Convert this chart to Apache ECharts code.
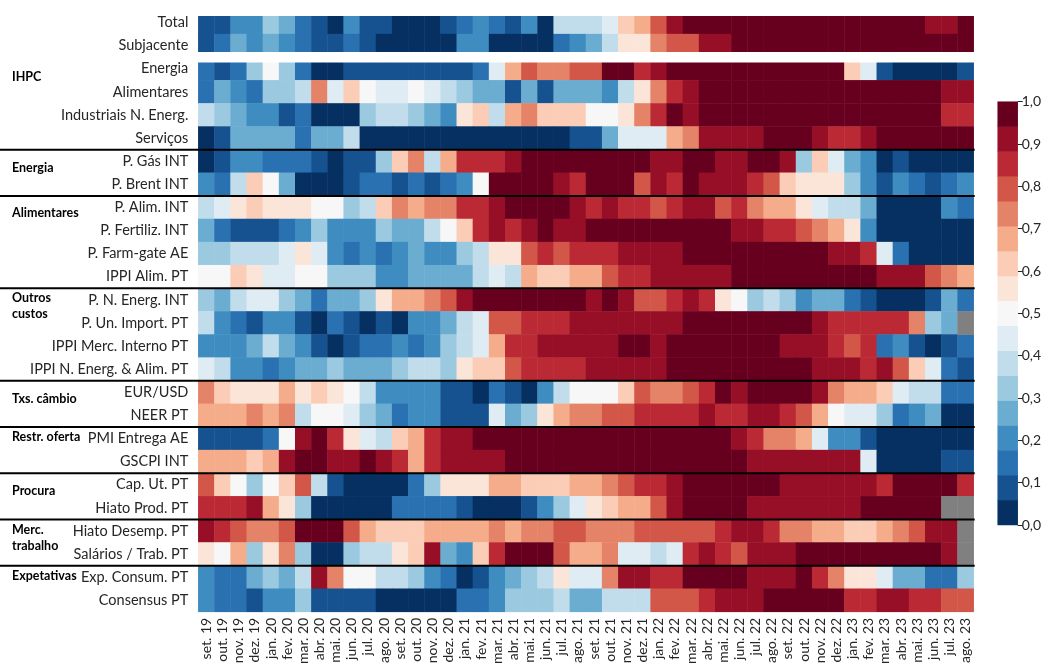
<!DOCTYPE html>
<html><head><meta charset="utf-8">
<script src="https://cdn.jsdelivr.net/npm/echarts@6/dist/echarts.min.js"></script>
<style>html,body{margin:0;padding:0;background:#fff}#c{width:1048px;height:667px}</style>
</head><body><div id="c"></div>
<script>
const months = ['set. 19','out. 19','nov. 19','dez. 19','jan. 20','fev. 20','mar. 20','abr. 20','mai. 20','jun. 20','jul. 20','ago. 20',
'set. 20','out. 20','nov. 20','dez. 20','jan. 21','fev. 21','mar. 21','abr. 21','mai. 21','jun. 21','jul. 21','ago. 21',
'set. 21','out. 21','nov. 21','dez. 21','jan. 22','fev. 22','mar. 22','abr. 22','mai. 22','jun. 22','jul. 22','ago. 22',
'set. 22','out. 22','nov. 22','dez. 22','jan. 23','fev. 23','mar. 23','abr. 23','mai. 23','jun. 23','jul. 23','ago. 23'];

const rowLabels = ['Total','Subjacente','Energia','Alimentares','Industriais N. Energ.','Serviços','P. Gás INT','P. Brent INT',
'P. Alim. INT','P. Fertiliz. INT','P. Farm-gate AE','IPPI Alim. PT','P. N. Energ. INT','P. Un. Import. PT','IPPI Merc. Interno PT',
'IPPI N. Energ. & Alim. PT','EUR/USD','NEER PT','PMI Entrega AE','GSCPI INT','Cap. Ut. PT','Hiato Prod. PT','Hiato Desemp. PT',
'Salários / Trab. PT','Exp. Consum. PT','Consensus PT'];

const total = [.09,.09,.21,.21,.32,.26,.15,.09,.03,.21,.09,.09,.03,.03,.03,.09, .15,.21,.15,.09,.21,.03,.38,.38,.38,.44,.62,.68,.79,.91,.97,.97, .97,.97,.97,.97,.97,.97,.97,.97,.97,.97,.97,.97,.97,.91,.91,.97];
const subjacente = [.09,.15,.26,.21,.26,.21,.15,.09,.09,.15,.09,.03,.03,.03,.03,.03, .21,.21,.03,.03,.03,.03,.15,.21,.26,.38,.56,.56,.74,.79,.79,.91, .91,.97,.97,.97,.97,.97,.97,.97,.97,.97,.97,.97,.97,.97,.97,.97];
const energia = [.15,.09,.15,.32,.5,.32,.15,.03,.03,.09,.09,.09,.09,.09,.09,.09, .09,.15,.44,.68,.79,.74,.74,.79,.79,.97,.97,.85,.91,.97,.97,.97, .97,.97,.97,.97,.97,.97,.97,.97,.62,.44,.09,.03,.03,.03,.03,.09];
const alimentares = [.15,.26,.21,.15,.32,.32,.38,.74,.44,.62,.5,.44,.44,.5,.44,.38, .32,.26,.26,.09,.26,.09,.26,.26,.26,.21,.38,.56,.74,.85,.91,.97, .97,.97,.97,.97,.97,.97,.97,.97,.97,.97,.97,.97,.97,.97,.91,.91];
const industriais = [.38,.32,.26,.21,.21,.09,.15,.03,.03,.03,.32,.38,.38,.32,.26,.21, .56,.62,.38,.68,.74,.62,.62,.62,.5,.5,.56,.74,.85,.97,.91,.97, .97,.97,.97,.97,.97,.97,.97,.97,.97,.97,.97,.97,.97,.97,.85,.85];
const servicos = [.03,.09,.26,.26,.26,.26,.15,.26,.26,.38,.03,.03,.03,.03,.03,.03, .03,.03,.03,.03,.03,.03,.03,.09,.09,.26,.44,.44,.44,.68,.74,.91, .91,.91,.91,.97,.97,.97,.91,.85,.85,.91,.97,.97,.97,.97,.97,.97];
const pGas = [.03,.09,.21,.21,.15,.15,.15,.09,.03,.09,.09,.32,.62,.74,.38,.68, .85,.85,.85,.91,.97,.97,.97,.97,.97,.97,.97,.97,.91,.91,.97,.97, .91,.91,.97,.97,.91,.32,.62,.44,.26,.21,.03,.09,.03,.03,.03,.03];
const pBrent = [.21,.15,.38,.62,.5,.26,.03,.03,.03,.09,.15,.15,.09,.15,.09,.15, .21,.5,.97,.97,.97,.97,.91,.85,.97,.97,.97,.79,.91,.85,.97,.91, .91,.91,.85,.79,.62,.56,.56,.56,.32,.21,.09,.21,.15,.09,.15,.21];
const pAlim = [.38,.44,.56,.62,.56,.56,.56,.5,.5,.32,.38,.62,.74,.68,.74,.74, .85,.85,.91,.97,.97,.97,.97,.91,.85,.91,.85,.85,.79,.85,.91,.91, .79,.85,.74,.68,.68,.56,.44,.38,.38,.26,.03,.03,.03,.03,.21,.15];
const pFertiliz = [.26,.15,.09,.09,.09,.15,.21,.32,.21,.21,.21,.32,.26,.26,.38,.5, .62,.85,.91,.85,.91,.97,.91,.91,.97,.97,.97,.97,.97,.97,.97,.97, .97,.91,.91,.85,.85,.79,.74,.68,.56,.21,.03,.03,.03,.03,.03,.03];
const pFarmGate = [.32,.32,.38,.38,.38,.44,.56,.44,.21,.15,.21,.15,.21,.26,.21,.21, .32,.38,.56,.56,.79,.85,.79,.85,.85,.85,.91,.91,.91,.91,.97,.97, .97,.97,.97,.97,.97,.97,.97,.91,.91,.85,.44,.15,.03,.03,.03,.03];
const ippiAlim = [.5,.5,.62,.56,.44,.44,.5,.5,.32,.32,.32,.21,.21,.26,.26,.26, .26,.38,.44,.38,.68,.62,.62,.68,.68,.79,.85,.85,.91,.91,.91,.91, .91,.97,.97,.97,.97,.97,.97,.97,.97,.97,.91,.91,.91,.79,.74,.68];
const pNEnerg = [.32,.26,.38,.44,.44,.32,.26,.15,.26,.26,.32,.56,.68,.68,.74,.79, .91,.97,.97,.97,.97,.97,.97,.97,.91,.97,.91,.79,.79,.85,.91,.85, .56,.5,.32,.38,.32,.21,.26,.26,.15,.09,.03,.03,.03,.09,.26,.15];
const pUnImport = [.38,.21,.15,.09,.21,.21,.09,.03,.15,.09,.03,.09,.03,.21,.21,.26, .38,.44,.79,.79,.85,.85,.85,.91,.91,.91,.91,.91,.91,.91,.97,.97, .97,.97,.97,.97,.97,.97,.91,.85,.85,.85,.85,.85,.74,.32,.26,null];
const ippiMerc = [.21,.21,.21,.26,.38,.26,.21,.09,.03,.09,.15,.15,.21,.15,.21,.32, .38,.44,.68,.85,.85,.91,.91,.91,.91,.91,.97,.97,.91,.97,.97,.97, .97,.97,.97,.97,.91,.91,.91,.85,.79,.85,.15,.21,.09,.03,.09,.15];
const ippiNEnerg = [.44,.38,.21,.21,.15,.21,.26,.26,.32,.26,.26,.26,.32,.38,.38,.32, .56,.62,.62,.79,.85,.85,.85,.85,.91,.91,.91,.91,.91,.97,.97,.97, .97,.97,.97,.97,.97,.97,.91,.91,.91,.85,.91,.79,.62,.44,.15,.09];
const eurUsd = [.74,.62,.56,.56,.56,.68,.56,.62,.56,.5,.38,.21,.21,.21,.21,.09, .09,.03,.15,.09,.03,.21,.38,.5,.5,.5,.62,.79,.74,.74,.79,.85, .97,.91,.97,.97,.97,.97,.91,.74,.68,.68,.62,.44,.38,.38,.15,.15];
const neer = [.68,.68,.68,.74,.68,.74,.38,.5,.5,.44,.32,.26,.15,.21,.21,.09, .09,.09,.44,.26,.32,.56,.68,.74,.74,.79,.79,.85,.85,.85,.85,.91, .85,.85,.91,.91,.85,.79,.68,.5,.44,.44,.32,.15,.21,.26,.03,.03];
const pmi = [.09,.09,.09,.09,.15,.5,.91,.97,.85,.56,.44,.38,.62,.68,.85,.91, .91,.97,.97,.97,.97,.97,.97,.97,.97,.97,.97,.97,.97,.97,.97,.97, .97,.91,.85,.74,.74,.68,.44,.21,.21,.09,.03,.03,.03,.03,.03,.03];
const gscpi = [.68,.68,.68,.62,.68,.91,.97,.97,.91,.91,.97,.91,.85,.68,.85,.91, .91,.91,.91,.97,.97,.97,.97,.97,.97,.97,.97,.97,.97,.97,.97,.97, .97,.97,.91,.91,.91,.91,.91,.91,.91,.44,.03,.03,.03,.03,.09,.09];
const capUt = [.79,.62,.5,.32,.5,.62,.79,.38,.09,.03,.03,.03,.03,.15,.32,.56, .56,.56,.68,.68,.62,.62,.62,.68,.68,.74,.79,.85,.85,.91,.97,.97, .97,.97,.97,.97,.91,.91,.91,.91,.91,.91,.85,.97,.97,.97,.97,.85];
const hiatoProd = [.85,.85,.85,.91,.68,.56,.32,.03,.03,.03,.03,.03,.15,.15,.15,.15, .09,.03,.03,.03,.09,.21,.32,.44,.56,.62,.68,.68,.79,.91,.97,.97, .97,.97,.91,.91,.91,.91,.91,.91,.91,.97,.97,.97,.97,.97,null,null];
const hiatoDesemp = [.91,.85,.79,.74,.74,.79,.97,.97,.97,.79,.68,.62,.62,.62,.68,.68, .68,.68,.74,.68,.74,.74,.79,.79,.74,.74,.74,.79,.79,.79,.79,.79, .85,.91,.91,.85,.74,.74,.68,.68,.62,.62,.68,.74,.79,.91,.91,null];
const salarios = [.56,.5,.68,.32,.56,.74,.32,.03,.03,.32,.38,.38,.56,.62,.91,.26, .21,.62,.85,.97,.97,.97,.79,.68,.68,.74,.44,.44,.38,.44,.85,.91, .85,.79,.91,.91,.91,.97,.97,.97,.97,.97,.97,.97,.97,.97,.91,null];
const expConsum = [.21,.15,.15,.26,.32,.26,.38,.91,.74,.5,.5,.38,.38,.32,.21,.15, .03,.09,.21,.26,.32,.38,.56,.44,.44,.74,.91,.91,.85,.85,.97,.97, .97,.97,.91,.91,.91,.97,.85,.74,.56,.56,.44,.26,.26,.15,.15,.32];
const consensus = [.21,.15,.15,.09,.21,.21,.32,.09,.09,.09,.09,.03,.03,.03,.03,.03, .15,.15,.21,.32,.32,.32,.38,.26,.26,.38,.38,.38,.79,.79,.79,.85, .91,.91,.91,.97,.97,.97,.97,.97,.85,.85,.91,.91,.85,.85,.79,.79];

const rows = [total, subjacente, energia, alimentares, industriais, servicos, pGas, pBrent, pAlim, pFertiliz, pFarmGate, ippiAlim,
  pNEnerg, pUnImport, ippiMerc, ippiNEnerg, eurUsd, neer, pmi, gscpi, capUt, hiatoProd, hiatoDesemp, salarios, expConsum, consensus];

const groups = [
  {name:'IHPC', pos:2.35}, {name:'Energia', pos:6.29}, {name:'Alimentares', pos:8.24},
  {name:'Outros\ncustos', pos:12.26}, {name:'Txs. câmbio', pos:16.28}, {name:'Restr. oferta', pos:17.93},
  {name:'Procura', pos:20.26}, {name:'Merc.\ntrabalho', pos:22.29}, {name:'Expetativas', pos:23.94}
];
const separatorsAfter = [5, 7, 11, 15, 17, 19, 21, 23];

const colors = ['#053061','#165290','#2a71b2','#3f8dc0','#6bacd1','#9ac9e0','#c1ddeb','#dfecf3','#f7f7f7',
  '#fbe5d9','#fbcdb6','#f5ac8b','#e58368','#d25749','#bb2a34','#960f27','#67001f'];
const nBins = colors.length;

const cells = [], missing = [];
rows.forEach((arr, r) => arr.forEach((v, c) => {
  if (v === null) missing.push([c, r, 1]); else cells.push([c, r, v]);
}));
const binIdx = colors.map((_, k) => k);
const cbCells = binIdx.map(k => [0, k, (k + 0.5) / nBins]);

const FONT = 'Lato, "Noto Sans", sans-serif';
const chart = echarts.init(document.getElementById('c'), null, {renderer:'canvas'});
const option = {
  animation: false,
  backgroundColor: '#fff',
  grid: [
    {left: 198.3, top: 11, width: 775.4, height: 601},
    {left: 997.7, top: 101.7, width: 20, height: 423.3}
  ],
  xAxis: [
    {type:'category', gridIndex:0, data: months, axisLine:{show:false}, axisTick:{show:false}, splitLine:{show:false},
     axisLabel:{rotate:90, interval:0, fontSize:14, color:'#262626', margin:6, fontFamily:FONT}},
    {type:'category', gridIndex:1, data:['cb'], show:false}
  ],
  yAxis: [
    {type:'category', gridIndex:0, data: rowLabels, inverse:true, axisLine:{show:false}, axisTick:{show:false}, splitLine:{show:false},
     axisLabel:{fontSize:14.5, color:'#262626', margin:10, fontFamily:FONT}},
    {type:'category', gridIndex:1, data: binIdx, show:false},
    {type:'value', gridIndex:1, min:0, max:1, interval:0.1, position:'right', axisLine:{show:false},
     axisTick:{show:true, length:5, lineStyle:{color:'#262626'}}, splitLine:{show:false},
     axisLabel:{fontSize:14, color:'#262626', margin:4, fontFamily:FONT, formatter: v => v.toFixed(1).replace('.', ',')}}
  ],
  visualMap: {
    type:'piecewise', show:false, seriesIndex:[0,1], dimension:2,
    pieces: colors.map((col, k) => k === nBins - 1 ? {gte:k/nBins, lte:1, color:col} : {gte:k/nBins, lt:(k+1)/nBins, color:col})
  },
  series: [
    {type:'heatmap', xAxisIndex:0, yAxisIndex:0, data: cells, itemStyle:{borderWidth:0}, emphasis:{disabled:true}},
    {type:'heatmap', xAxisIndex:1, yAxisIndex:1, data: cbCells, itemStyle:{borderWidth:0}, emphasis:{disabled:true}},
    {type:'heatmap', xAxisIndex:0, yAxisIndex:0, data: missing, itemStyle:{color:'#808080', borderWidth:0}, emphasis:{disabled:true}}
  ]
};
chart.setOption(option);

const px = (c, r) => chart.convertToPixel({gridIndex:0}, [c, r]);
const p00 = px(0, 0), p11 = px(1, 1);
const colW = p11[0] - p00[0], rowH = p11[1] - p00[1];
const leftEdge = p00[0] - colW / 2;
const rightEdge = px(months.length - 1, 0)[0] + colW / 2;
const rowY = pos => px(0, Math.floor(pos))[1] + (pos - Math.floor(pos)) * rowH;
const graphics = [];
const gapY = px(0, 1)[1] + rowH / 2;
graphics.push({type:'rect', shape:{x:leftEdge - 1, y:gapY - rowH * 0.23, width:rightEdge - leftEdge + 2, height:rowH * 0.46}, style:{fill:'#fff'}, z:10});
const topY = p00[1] - rowH / 2;
graphics.push({type:'rect', shape:{x:leftEdge - 1, y:topY - 1, width:rightEdge - leftEdge + 2, height:rowH * 0.22 + 1}, style:{fill:'#fff'}, z:10});
separatorsAfter.forEach(r => {
  const y = px(0, r)[1] + rowH / 2;
  graphics.push({type:'line', shape:{x1:0, y1:y, x2:rightEdge + 1, y2:y}, style:{stroke:'#000', lineWidth:2}, z:11});
});
groups.forEach(g => {
  graphics.push({type:'text', x:12, y:rowY(g.pos), z:12,
    style:{text:g.name, fill:'#000', font:'bold 12.5px ' + FONT, verticalAlign:'middle', align:'left', lineHeight:16}});
});
chart.setOption({graphic: graphics});
</script></body></html>
